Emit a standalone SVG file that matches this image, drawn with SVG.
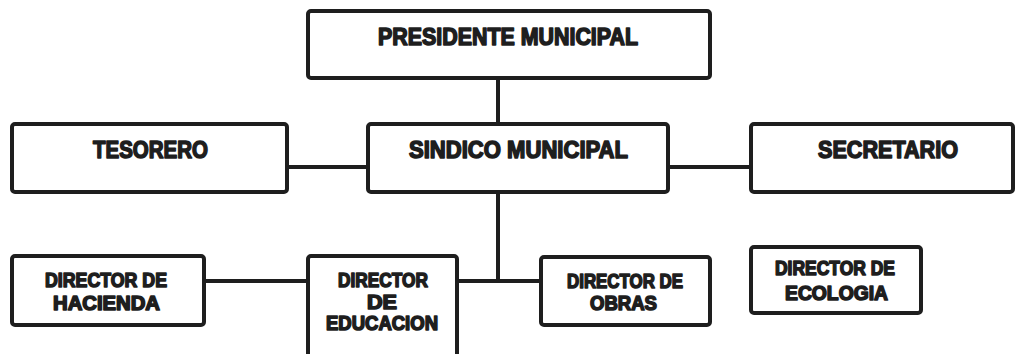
<svg xmlns="http://www.w3.org/2000/svg" width="1016" height="354" viewBox="0 0 1016 354">
<style>
.box{fill:#fff;stroke:#1e1e1e;stroke-width:4;}
.ln{stroke:#1e1e1e;stroke-width:4;fill:none;}
.t{font-family:"Liberation Sans",Arial,sans-serif;font-weight:bold;fill:#1e1e1e;stroke:#1e1e1e;stroke-width:1.6;stroke-linejoin:round;}
.big{font-size:24px;}
.sm{font-size:20px;}
</style>
<rect width="1016" height="354" fill="#fff"/>
<g id="connectors">
<line class="ln" x1="498" y1="78" x2="498" y2="123"/>
<line class="ln" x1="287" y1="167" x2="368" y2="167"/>
<line class="ln" x1="668" y1="167" x2="750" y2="167"/>
<line class="ln" x1="498" y1="192" x2="498" y2="281"/>
<line class="ln" x1="204" y1="281" x2="308" y2="281"/>
<line class="ln" x1="457" y1="281" x2="540" y2="281"/>
</g>
<g id="presidente">
<rect class="box" x="308" y="11" width="402" height="67" rx="3"/>
<text class="t big" x="378" y="45" textLength="260" lengthAdjust="spacingAndGlyphs">PRESIDENTE MUNICIPAL</text>
</g>
<g id="tesorero">
<rect class="box" x="12" y="124" width="275" height="68" rx="3"/>
<text class="t big" x="93" y="158" textLength="115" lengthAdjust="spacingAndGlyphs">TESORERO</text>
</g>
<g id="sindico">
<rect class="box" x="368" y="124" width="300" height="68" rx="3"/>
<text class="t big" x="409" y="158" textLength="219" lengthAdjust="spacingAndGlyphs">SINDICO MUNICIPAL</text>
</g>
<g id="secretario">
<rect class="box" x="751" y="124" width="262" height="68" rx="3"/>
<text class="t big" x="818" y="158" textLength="140" lengthAdjust="spacingAndGlyphs">SECRETARIO</text>
</g>
<g id="hacienda">
<rect class="box" x="12" y="256" width="192" height="69" rx="3"/>
<text class="t sm" x="45" y="287" textLength="122" lengthAdjust="spacingAndGlyphs">DIRECTOR DE</text>
<text class="t sm" x="53" y="310" textLength="107" lengthAdjust="spacingAndGlyphs">HACIENDA</text>
</g>
<g id="educacion">
<rect class="box" x="308" y="256" width="149" height="110" rx="3"/>
<text class="t sm" x="338" y="287" textLength="90" lengthAdjust="spacingAndGlyphs">DIRECTOR</text>
<text class="t sm" x="367" y="309" textLength="30" lengthAdjust="spacingAndGlyphs">DE</text>
<text class="t sm" x="326" y="330" textLength="112" lengthAdjust="spacingAndGlyphs">EDUCACION</text>
</g>
<g id="obras">
<rect class="box" x="541" y="257" width="169" height="68" rx="3"/>
<text class="t sm" x="567" y="288" textLength="116" lengthAdjust="spacingAndGlyphs">DIRECTOR DE</text>
<text class="t sm" x="590" y="310" textLength="67" lengthAdjust="spacingAndGlyphs">OBRAS</text>
</g>
<g id="ecologia">
<rect class="box" x="751" y="247" width="170" height="66" rx="3"/>
<text class="t sm" x="775" y="275" textLength="120" lengthAdjust="spacingAndGlyphs">DIRECTOR DE</text>
<text class="t sm" x="785" y="300" textLength="103" lengthAdjust="spacingAndGlyphs">ECOLOGIA</text>
</g>
</svg>
